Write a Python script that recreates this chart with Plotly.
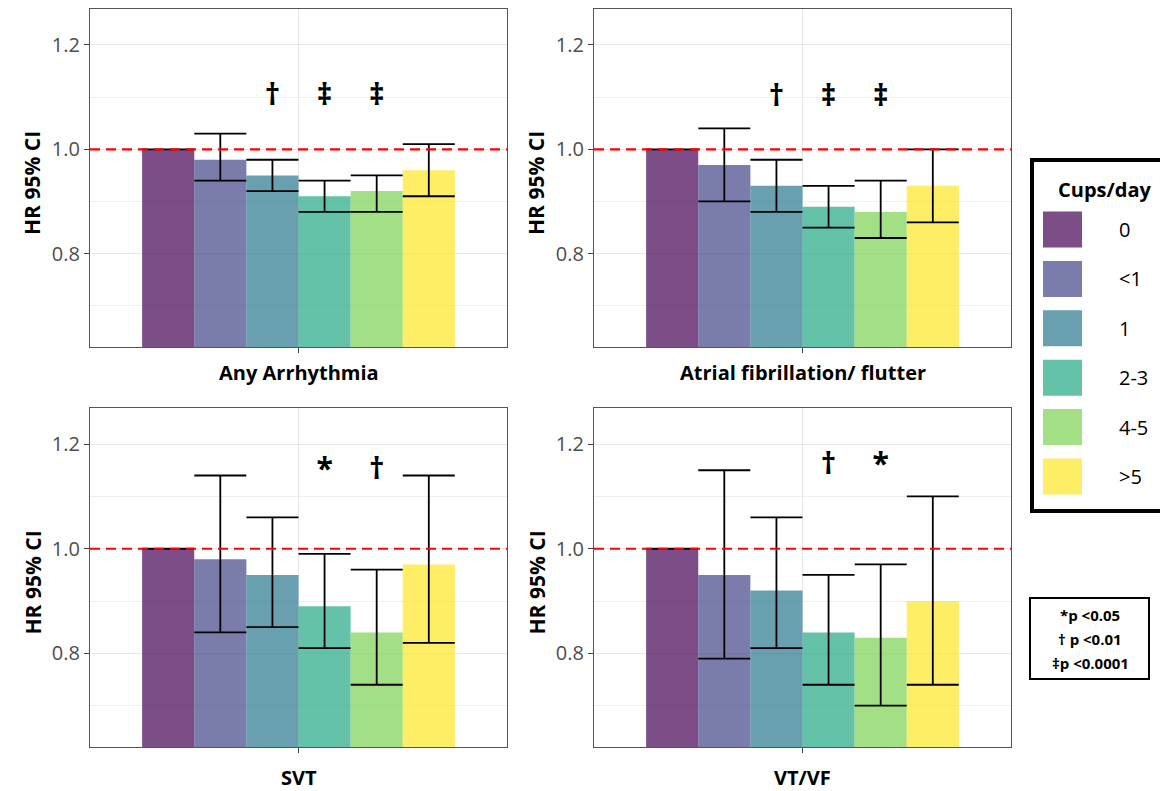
import plotly.graph_objects as go
import numpy as np

# ---------------- data ----------------
cups = ["0", "<1", "1", "2-3", "4-5", ">5"]
outcomes = ["Any Arrhythmia", "Atrial fibrillation/ flutter", "SVT", "VT/VF"]

hr_any = [1.00, 0.98, 0.95, 0.91, 0.92, 0.96]
lo_any = [1.00, 0.94, 0.92, 0.88, 0.88, 0.91]
hi_any = [1.00, 1.03, 0.98, 0.94, 0.95, 1.01]
sig_any = ["", "", "†", "‡", "‡", ""]

hr_af = [1.00, 0.97, 0.93, 0.89, 0.88, 0.93]
lo_af = [1.00, 0.90, 0.88, 0.85, 0.83, 0.86]
hi_af = [1.00, 1.04, 0.98, 0.93, 0.94, 1.00]
sig_af = ["", "", "†", "‡", "‡", ""]

hr_svt = [1.00, 0.98, 0.95, 0.89, 0.84, 0.97]
lo_svt = [1.00, 0.84, 0.85, 0.81, 0.74, 0.82]
hi_svt = [1.00, 1.14, 1.06, 0.99, 0.96, 1.14]
sig_svt = ["", "", "", "*", "†", ""]

hr_vt = [1.00, 0.95, 0.92, 0.84, 0.83, 0.90]
lo_vt = [1.00, 0.79, 0.81, 0.74, 0.70, 0.74]
hi_vt = [1.00, 1.15, 1.06, 0.95, 0.97, 1.10]
sig_vt = ["", "", "", "†", "*", ""]

sig_level = [1.10, 1.097, 1.148, 1.158]  # height of significance marks per panel

y_ticks = [0.8, 1.0, 1.2]
y_minor = [0.7, 0.9, 1.1]
reference_hr = 1.0
p_notes = ["*p <0.05", "† p <0.01", "‡p <0.0001"]

# ---------------- styling ----------------
W, H = 1160, 791
FONT = "Open Sans"
viridis6 = [(68, 1, 84), (65, 68, 135), (42, 120, 142), (34, 168, 132), (122, 209, 81), (253, 231, 37)]
fills = [f"rgba({r},{g},{b},0.7)" for r, g, b in viridis6]

def px(x):
    return x / W

def py(y):
    return 1 - y / H

# panel boxes in pixels (left, right, top, bottom)
boxes = [(90, 507, 9, 347), (594, 1011, 9, 347), (90, 507, 408, 747), (594, 1011, 408, 747)]
label_y = [372, 372, 777, 777]

series = [
    (hr_any, lo_any, hi_any, sig_any),
    (hr_af, lo_af, hi_af, sig_af),
    (hr_svt, lo_svt, hi_svt, sig_svt),
    (hr_vt, lo_vt, hi_vt, sig_vt),
]

dodge = 0.9
bw = dodge / len(cups)
xpos = 1 + (np.arange(len(cups)) - (len(cups) - 1) / 2) * bw

fig = go.Figure()
layout = dict(
    width=W, height=H, margin=dict(l=0, r=0, t=0, b=0),
    paper_bgcolor="white", plot_bgcolor="white",
    showlegend=False, font=dict(family=FONT),
)
annotations = []
shapes = []

for k, (hr, lo, hi, sig) in enumerate(series):
    hr = np.array(hr); lo = np.array(lo); hi = np.array(hi)
    suf = "" if k == 0 else str(k + 1)
    xa, ya = "x" + suf, "y" + suf
    fig.add_trace(go.Bar(
        x=xpos, y=hr, width=bw,
        marker=dict(color=fills, line=dict(width=0)),
        error_y=dict(type="data", symmetric=False, array=hi - hr, arrayminus=hr - lo,
                     color="black", thickness=1.8, width=26),
        xaxis=xa, yaxis=ya, hoverinfo="skip",
    ))
    idx = [i for i, s in enumerate(sig) if s]
    fig.add_trace(go.Scatter(
        x=xpos[idx], y=[sig_level[k]] * len(idx), text=[sig[i] for i in idx],
        mode="text", textposition="middle center",
        textfont=dict(size=30, color="black", family=FONT, weight="bold"),
        xaxis=xa, yaxis=ya, hoverinfo="skip",
    ))
    l, r, t, b = boxes[k]
    axis_common = dict(showline=True, mirror=True, linecolor="#555555", linewidth=1.2,
                       ticks="outside", ticklen=5, tickcolor="#444444", tickwidth=1.2,
                       zeroline=False, gridcolor="#E8E8E8", gridwidth=1.4)
    layout["xaxis" + suf] = dict(axis_common, domain=[px(l), px(r)], anchor=ya,
                                 range=[0.4, 1.6], tickvals=[1], showticklabels=False,
                                 showgrid=True)
    layout["yaxis" + suf] = dict(axis_common, domain=[py(b), py(t)], anchor=xa,
                                 range=[0.621, 1.269], tickvals=y_ticks, tickformat=".1f",
                                 tickfont=dict(size=20, color="#4D4D4D", family=FONT),
                                 showgrid=True,
                                 minor=dict(tickvals=y_minor, showgrid=True,
                                            gridcolor="#EFEFEF", gridwidth=1.0, ticks=""))
    shapes.append(dict(type="line", xref=xa + " domain", x0=0, x1=1, yref=ya,
                       y0=reference_hr, y1=reference_hr, layer="above",
                       line=dict(color="#FF0000", width=2.2, dash="10px,6px")))
    annotations.append(dict(text="<b>" + outcomes[k] + "</b>", xref="paper", yref="paper",
                            x=px((l + r) / 2), y=py(label_y[k]), showarrow=False,
                            xanchor="center", yanchor="middle",
                            font=dict(size=20, color="black", family=FONT)))
    annotations.append(dict(text="<b>HR 95% CI</b>", xref="paper", yref="paper",
                            x=px(l - 58), y=py((t + b) / 2 + 5), showarrow=False, textangle=-90,
                            xanchor="center", yanchor="middle",
                            font=dict(size=21, color="black", family=FONT)))

# ---------------- manual legend ----------------
shapes.append(dict(type="rect", xref="paper", yref="paper",
                   x0=px(1032), x1=px(1175), y0=py(511), y1=py(160),
                   line=dict(color="black", width=4), fillcolor="white", layer="above"))
annotations.append(dict(text="<b>Cups/day</b>", xref="paper", yref="paper",
                        x=px(1104), y=py(190), showarrow=False, xanchor="center", yanchor="middle",
                        font=dict(size=20, color="black", family=FONT)))
for i, c in enumerate(cups):
    cy = 229.5 + i * 49.4
    shapes.append(dict(type="rect", xref="paper", yref="paper",
                       x0=px(1043), x1=px(1082), y0=py(cy + 18), y1=py(cy - 18),
                       line=dict(width=0), fillcolor=fills[i], layer="above"))
    annotations.append(dict(text=c, xref="paper", yref="paper", x=px(1117), y=py(cy),
                            showarrow=False, xanchor="left", yanchor="middle",
                            font=dict(size=20, color="black", family=FONT)))

# ---------------- p-value box ----------------
shapes.append(dict(type="rect", xref="paper", yref="paper",
                   x0=px(1030), x1=px(1149), y0=py(679), y1=py(598),
                   line=dict(color="black", width=2), fillcolor="white", layer="above"))
for i, note in enumerate(p_notes):
    annotations.append(dict(text="<b>" + note + "</b>", xref="paper", yref="paper",
                            x=px(1090), y=py(615 + i * 24), showarrow=False,
                            xanchor="center", yanchor="middle",
                            font=dict(size=15, color="black", family=FONT)))

layout["shapes"] = shapes
layout["annotations"] = annotations
fig.update_layout(**layout)
fig.write_html("out.html")
